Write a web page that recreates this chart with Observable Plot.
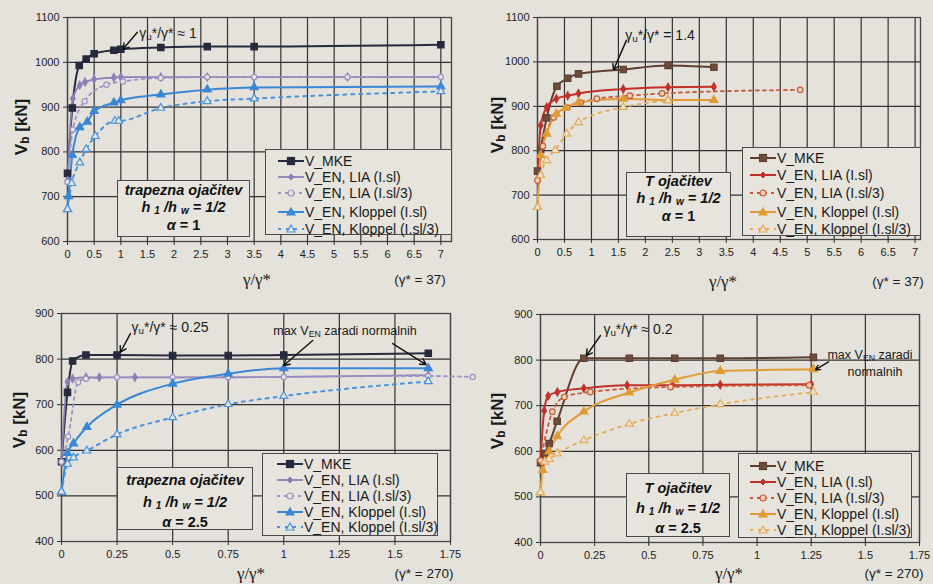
<!DOCTYPE html>
<html><head><meta charset="utf-8">
<script src="https://cdn.jsdelivr.net/npm/d3@7"></script>
<script src="https://cdn.jsdelivr.net/npm/@observablehq/plot@0.6"></script>
<style>
html,body{margin:0;padding:0;background:#e4e2db;}
#page{position:relative;width:933px;height:584px;overflow:hidden;background:#e4e2db;font-family:"Liberation Sans",Arial,sans-serif;color:#222;}
.chart{position:absolute;}
.chart svg{overflow:visible;}
.lbl{position:absolute;white-space:nowrap;line-height:1;}
.box{position:absolute;border:1.5px solid #4a4a4a;background:#e6e4dd;box-sizing:border-box;}
.row{position:absolute;display:flex;align-items:center;white-space:nowrap;font-size:14px;line-height:1;transform:translateY(-50%);color:#1a1a1a;}
.row svg{margin-right:1px;}
.info div{position:absolute;left:0;right:0;text-align:center;font-weight:bold;font-size:14.5px;line-height:1;transform:translateY(-50%);color:#111;}
sub{font-size:70%;vertical-align:-0.25em;line-height:0;}
</style></head>
<body><div id="page"></div>
<script>
// ---------- DATA ----------
const seriesNames = ["V_MKE", "V_EN, LIA (I.sl)", "V_EN, LIA (I.sl/3)", "V_EN, Kloppel (I.sl)", "V_EN, Kloppel (I.sl/3)"];
const xTicksWide = [0,0.5,1,1.5,2,2.5,3,3.5,4,4.5,5,5.5,6,6.5,7];
const xTicksNarrow = [0,0.25,0.5,0.75,1,1.25,1.5,1.75];
const yTicksTop = [600,700,800,900,1000,1100];
const yTicksBottom = [400,500,600,700,800,900];

// Chart A: trapezna ojačitev, alpha = 1 (gamma* = 37)
const A_MKE_x = [0, 0.09, 0.22, 0.35, 0.5, 0.87, 1.0, 1.75, 2.62, 3.5, 7.0];
const A_MKE_y = [752, 898, 993, 1007, 1019, 1027, 1029, 1033, 1035, 1035, 1039];
const A_LIA_x = [0, 0.1, 0.23, 0.33, 0.5, 0.87, 1.0, 1.75, 2.62, 3.5, 5.25, 7.0];
const A_LIA_y = [736, 919, 949, 956, 962, 966, 967, 967, 967, 967, 967, 967];
const A_LIA3_x = [0, 0.1, 0.32, 0.73, 1.04, 1.75, 2.62, 3.5, 5.25, 7.0];
const A_LIA3_y = [733, 850, 913, 950, 957, 965, 967, 967, 967, 967];
const A_KL_x = [0, 0.02, 0.09, 0.23, 0.37, 0.5, 0.87, 1.0, 1.75, 2.62, 3.5, 7.0];
const A_KL_y = [672, 701, 793, 855, 867, 891, 910, 915, 928, 939, 944, 946];
const A_KL3_x = [0, 0.08, 0.23, 0.35, 0.52, 0.89, 0.96, 1.75, 2.62, 3.5, 7.0];
const A_KL3_y = [672, 730, 776, 806, 835, 869, 869, 898, 913, 919, 935];

// Chart B: T ojačitev, alpha = 1 (gamma* = 37)
const B_MKE_x = [0, 0.06, 0.17, 0.36, 0.56, 0.76, 1.59, 2.42, 3.27];
const B_MKE_y = [754, 803, 874, 945, 963, 973, 983, 992, 988];
const B_LIA_x = [0, 0.06, 0.17, 0.35, 0.56, 0.76, 1.59, 2.42, 3.27];
const B_LIA_y = [733, 857, 898, 917, 924, 929, 939, 943, 944];
const B_LIA3_x = [0, 0.1, 0.3, 0.55, 0.8, 1.1, 1.71, 2.31, 4.87];
const B_LIA3_y = [733, 810, 875, 897, 908, 917, 924, 929, 937];
const B_KL_x = [0, 0.06, 0.17, 0.35, 0.52, 0.76, 1.59, 2.42, 3.27];
const B_KL_y = [673, 790, 838, 883, 896, 909, 917, 914, 914];
const B_KL3_x = [0, 0.06, 0.17, 0.33, 0.54, 0.76, 1.59, 2.42];
const B_KL3_y = [673, 745, 778, 801, 838, 864, 898, 913];

// Chart C: trapezna ojačitev, alpha = 2.5 (gamma* = 270)
const C_MKE_x = [0, 0.027, 0.05, 0.11, 0.25, 0.5, 0.75, 1.0, 1.65];
const C_MKE_y = [575, 727, 796, 809, 809, 808, 808, 809, 813];
const C_LIA_x = [0, 0.027, 0.05, 0.11, 0.17, 0.25, 0.33, 0.5, 0.75, 1.0, 1.65];
const C_LIA_y = [575, 750, 757, 760, 760, 760, 760, 760, 760, 761, 765];
const C_LIA3_x = [0, 0.03, 0.075, 0.11, 0.25, 0.5, 0.75, 1.0, 1.65, 1.85];
const C_LIA3_y = [575, 630, 749, 757, 760, 760, 760, 761, 763, 761];
const C_KL_x = [0, 0.027, 0.054, 0.114, 0.25, 0.5, 0.75, 1.0, 1.65];
const C_KL_y = [509, 594, 615, 651, 700, 746, 768, 780, 780];
const C_KL3_x = [0, 0.027, 0.054, 0.114, 0.25, 0.5, 0.75, 1.0, 1.65];
const C_KL3_y = [509, 570, 584, 599, 635, 672, 701, 719, 751];

// Chart D: T ojačitev, alpha = 2.5 (gamma* = 270)
const D_MKE_x = [0, 0.02, 0.04, 0.077, 0.2, 0.41, 0.62, 0.83, 1.26];
const D_MKE_y = [575, 595, 617, 666, 804, 804, 804, 804, 806];
const D_LIA_x = [0, 0.017, 0.035, 0.078, 0.2, 0.4, 0.61, 0.83, 1.25];
const D_LIA_y = [580, 689, 721, 730, 738, 745, 745, 746, 747];
const D_LIA3_x = [0, 0.055, 0.11, 0.23, 0.6, 1.24];
const D_LIA3_y = [580, 687, 719, 730, 741, 745];
const D_KL_x = [0, 0.01, 0.04, 0.077, 0.2, 0.41, 0.62, 0.83, 1.26];
const D_KL_y = [510, 559, 600, 633, 687, 729, 757, 776, 780];
const D_KL3_x = [0, 0.02, 0.04, 0.077, 0.2, 0.41, 0.62, 0.83, 1.26];
const D_KL3_y = [510, 577, 583, 595, 624, 660, 684, 703, 730];

// ---------- STYLES ----------
const BG = "#e6e4dd";
const stylesA = [
  {color:"#262a3c", w:2, dash:null, symbol:"square", r:3.6, fill:"#262a3c"},
  {color:"#8b80b6", w:1.8, dash:null, symbol:"diamond", r:2.4, fill:"#8b80b6"},
  {color:"#9d93c4", w:1.8, dash:"3,4", symbol:"circle", r:2.6, fill:BG},
  {color:"#3a87d6", w:2, dash:null, symbol:"triangle", r:3.0, fill:"#3a87d6"},
  {color:"#4a93dc", w:2, dash:"3,5", symbol:"triangle", r:2.9, fill:BG}
];
const stylesB = [
  {color:"#5e4032", w:2, dash:null, symbol:"square", r:3.6, fill:"#6d4c3c"},
  {color:"#c2312a", w:2, dash:null, symbol:"diamond", r:2.4, fill:"#c2312a"},
  {color:"#c85a3a", w:1.8, dash:"3,4", symbol:"circle", r:2.8, fill:"#ecd3b5"},
  {color:"#e09b35", w:2, dash:null, symbol:"triangle", r:3.0, fill:"#e09b35"},
  {color:"#e6ac55", w:1.8, dash:"3,5", symbol:"triangle", r:2.9, fill:BG}
];

const page = document.getElementById("page");

function makeChart(cfg) {
  const marks = [
    Plot.gridX(cfg.xTicks, {stroke:"#333", strokeOpacity:1, strokeWidth:1.2}),
    Plot.gridY(cfg.yTicks, {stroke:"#333", strokeOpacity:1, strokeWidth:1.2}),
    Plot.frame({stroke:"#444", strokeWidth:1.3}),
    Plot.axisX({ticks:cfg.xTicks, tickFormat:d=>String(d), tickSize:4, tickPadding:5, label:null, fill:"#222", stroke:"#333"}),
    Plot.axisY({ticks:cfg.yTicks, tickFormat:d=>String(d), tickSize:4, tickPadding:4, label:null, fill:"#222", stroke:"#333"})
  ];
  cfg.series.forEach((s, i) => {
    const st = cfg.styles[i];
    const data = s[0].map((x, j) => ({x, y: s[1][j]}));
    marks.push(Plot.line(data, {x:"x", y:"y", stroke:st.color, strokeWidth:st.w, strokeDasharray:st.dash, curve:"monotone-x"}));
  });
  cfg.series.forEach((s, i) => {
    const st = cfg.styles[i];
    const data = s[0].map((x, j) => ({x, y: s[1][j]}));
    marks.push(Plot.dot(data, {x:"x", y:"y", symbol:st.symbol, r:st.r, fill:st.fill, stroke:st.color, strokeWidth:1.2}));
  });
  marks.push(Plot.arrow(cfg.arrows, {x1:"x1", y1:"y1", x2:"x2", y2:"y2", stroke:"#111", strokeWidth:1.4, headLength:7}));
  const svg = Plot.plot({
    width: cfg.width, height: cfg.height,
    marginLeft: cfg.ml, marginRight: cfg.mr, marginTop: cfg.mt, marginBottom: cfg.mb,
    x: {domain: cfg.xDomain},
    y: {domain: cfg.yDomain},
    style: {background:"transparent", fontFamily:"Liberation Sans, Arial, sans-serif", fontSize:"11px", overflow:"visible"},
    marks
  });
  const wrap = document.createElement("div");
  wrap.className = "chart";
  wrap.style.left = cfg.left + "px"; wrap.style.top = cfg.top + "px";
  wrap.appendChild(svg);
  page.appendChild(wrap);
}

function addLabel(html, cx, cy, style, rotate) {
  const d = document.createElement("div");
  d.className = "lbl";
  d.innerHTML = html;
  Object.assign(d.style, style || {});
  d.style.left = cx + "px"; d.style.top = cy + "px";
  d.style.transform = "translate(-50%,-50%)" + (rotate ? ` rotate(${rotate}deg)` : "");
  page.appendChild(d);
}

function markerSVG(st) {
  const c = 13, m = 6;
  let shape = "";
  if (st.symbol === "square") shape = `<rect x="${c-3.5}" y="${m-3.5}" width="7" height="7" fill="${st.fill}" stroke="${st.color}" stroke-width="1.2"/>`;
  else if (st.symbol === "diamond") shape = `<polygon points="${c},${m-3} ${c+3},${m} ${c},${m+3} ${c-3},${m}" fill="${st.fill}" stroke="${st.color}"/>`;
  else if (st.symbol === "circle") shape = `<circle cx="${c}" cy="${m}" r="3" fill="${st.fill}" stroke="${st.color}" stroke-width="1.2"/>`;
  else shape = `<polygon points="${c},${m-4} ${c+4},${m+3} ${c-4},${m+3}" fill="${st.fill}" stroke="${st.color}" stroke-width="1.2"/>`;
  return `<svg width="26" height="12"><line x1="0" y1="${m}" x2="26" y2="${m}" stroke="${st.color}" stroke-width="${st.w}" ${st.dash ? `stroke-dasharray="${st.dash}"` : ""}/>${shape}</svg>`;
}

function addLegend(b, styles) {
  const d = document.createElement("div");
  d.className = "box";
  d.style.left = b.l + "px"; d.style.top = b.t + "px";
  d.style.width = (b.r - b.l) + "px"; d.style.height = (b.b - b.t) + "px";
  seriesNames.forEach((name, i) => {
    const row = document.createElement("div");
    row.className = "row";
    row.style.left = (b.sx - b.l) + "px";
    row.style.top = (b.ys[i] - b.t) + "px";
    row.innerHTML = markerSVG(styles[i]) + `<span>${name}</span>`;
    d.appendChild(row);
  });
  page.appendChild(d);
}

function addInfo(b, lines) {
  const d = document.createElement("div");
  d.className = "box info";
  d.style.left = b.l + "px"; d.style.top = b.t + "px";
  d.style.width = (b.r - b.l) + "px"; d.style.height = (b.b - b.t) + "px";
  lines.forEach((html, i) => {
    const ln = document.createElement("div");
    ln.innerHTML = html;
    ln.style.top = (b.ys[i] - b.t) + "px";
    d.appendChild(ln);
  });
  page.appendChild(d);
}

// ---------- CHARTS ----------
makeChart({left:0, top:0, width:466, height:292, ml:67, mr:15, mt:17, mb:51,
  xDomain:[0,7.2], yDomain:[600,1100], xTicks:xTicksWide, yTicks:yTicksTop, styles:stylesA,
  series:[[A_MKE_x,A_MKE_y],[A_LIA_x,A_LIA_y],[A_LIA3_x,A_LIA3_y],[A_KL_x,A_KL_y],[A_KL3_x,A_KL3_y]],
  arrows:[{x1:1.31, y1:1067, x2:1.04, y2:1029}]});
makeChart({left:466, top:0, width:467, height:292, ml:71, mr:13, mt:17, mb:53,
  xDomain:[0,7.1], yDomain:[600,1100], xTicks:xTicksWide, yTicks:yTicksTop, styles:stylesB,
  series:[[B_MKE_x,B_MKE_y],[B_LIA_x,B_LIA_y],[B_LIA3_x,B_LIA3_y],[B_KL_x,B_KL_y],[B_KL3_x,B_KL3_y]],
  arrows:[{x1:1.65, y1:1049, x2:1.41, y2:982}]});
makeChart({left:0, top:292, width:466, height:292, ml:61, mr:16, mt:21, mb:43,
  xDomain:[0,1.75], yDomain:[400,900], xTicks:xTicksNarrow, yTicks:yTicksBottom, styles:stylesA,
  series:[[C_MKE_x,C_MKE_y],[C_LIA_x,C_LIA_y],[C_LIA3_x,C_LIA3_y],[C_KL_x,C_KL_y],[C_KL3_x,C_KL3_y]],
  arrows:[{x1:0.31, y1:856, x2:0.265, y2:815}, {x1:1.13, y1:841, x2:1.0, y2:786}, {x1:1.49, y1:834, x2:1.64, y2:788}]});
makeChart({left:466, top:292, width:467, height:292, ml:74, mr:14, mt:22, mb:42,
  xDomain:[0,1.75], yDomain:[400,900], xTicks:xTicksNarrow, yTicks:yTicksBottom, styles:stylesB,
  series:[[D_MKE_x,D_MKE_y],[D_LIA_x,D_LIA_y],[D_LIA3_x,D_LIA3_y],[D_KL_x,D_KL_y],[D_KL3_x,D_KL3_y]],
  arrows:[{x1:0.277, y1:854, x2:0.212, y2:810}, {x1:1.33, y1:796, x2:1.27, y2:779}]});

// axis titles
const yt = {fontWeight:"bold", fontSize:"17px", color:"#1a1a1a"};
addLabel("V<sub>b</sub> [kN]", 21, 127, yt, -90);
addLabel("V<sub>b</sub> [kN]", 497, 125, yt, -90);
addLabel("V<sub>b</sub> [kN]", 19, 420, yt, -90);
addLabel("V<sub>b</sub> [kN]", 497, 421, yt, -90);
const xt = {fontFamily:"Liberation Serif, serif", fontSize:"17px", color:"#1a1a1a"};
addLabel("γ/γ*", 257, 279, xt);
addLabel("γ/γ*", 723, 281, xt);
addLabel("γ/γ*", 251, 573, xt);
addLabel("γ/γ*", 729, 573, xt);
const gt = {fontSize:"13.5px", color:"#1a1a1a"};
addLabel("(γ* = 37)", 420, 280, gt);
addLabel("(γ* = 37)", 898, 282, gt);
addLabel("(γ* = 270)", 424, 574, gt);
addLabel("(γ* = 270)", 894, 574, gt);

// annotations
const an = {fontSize:"14px", color:"#1a1a1a"};
addLabel("γ<sub>u</sub>*/γ* ≈ 1", 168, 33, an);
addLabel("γ<sub>u</sub>*/γ* = 1.4", 660, 35, an);
addLabel("γ<sub>u</sub>*/γ* ≈ 0.25", 170, 327, an);
addLabel("γ<sub>u</sub>*/γ* ≈ 0.2", 638, 329, an);
addLabel("max V<sub>EN</sub> zaradi normalnih", 345, 331, {fontSize:"12.5px", color:"#1a1a1a"});
addLabel("max V<sub>EN</sub> zaradi", 870, 355, {fontSize:"12.5px", color:"#1a1a1a"});
addLabel("normalnih", 875, 372, {fontSize:"12.5px", color:"#1a1a1a"});

// legends
addLegend({l:265, t:149, r:452, b:235, sx:277, ys:[160,176,192,211,228]}, stylesA);
addLegend({l:742, t:147, r:921, b:236, sx:749, ys:[157,174,192,211,228]}, stylesB);
addLegend({l:262, t:453, r:438, b:536, sx:276, ys:[463,479,495,511,526]}, stylesA);
addLegend({l:738, t:453, r:912, b:538, sx:749, ys:[465,481,497,513,529]}, stylesB);

// info boxes
addInfo({l:117, t:180, r:250, b:237, ys:[189,206,224]},
  ["<i>trapezna ojačitev</i>", "<i>h <sub>1</sub> /h <sub>w</sub> = 1/2</i>", "<i>α</i> = 1"]);
addInfo({l:626, t:172, r:731, b:237, ys:[180,197,215]},
  ["<i>T ojačitev</i>", "<i>h <sub>1</sub> /h <sub>w</sub> = 1/2</i>", "<i>α</i> = 1"]);
addInfo({l:117, t:467, r:253, b:530, ys:[479,501,521]},
  ["<i>trapezna ojačitev</i>", "<i>h <sub>1</sub> /h <sub>w</sub> = 1/2</i>", "<i>α</i> = 2.5"]);
addInfo({l:626, t:473, r:730, b:537, ys:[487,507,527]},
  ["<i>T ojačitev</i>", "<i>h <sub>1</sub> /h <sub>w</sub> = 1/2</i>", "<i>α</i> = 2.5"]);
</script></body></html>
